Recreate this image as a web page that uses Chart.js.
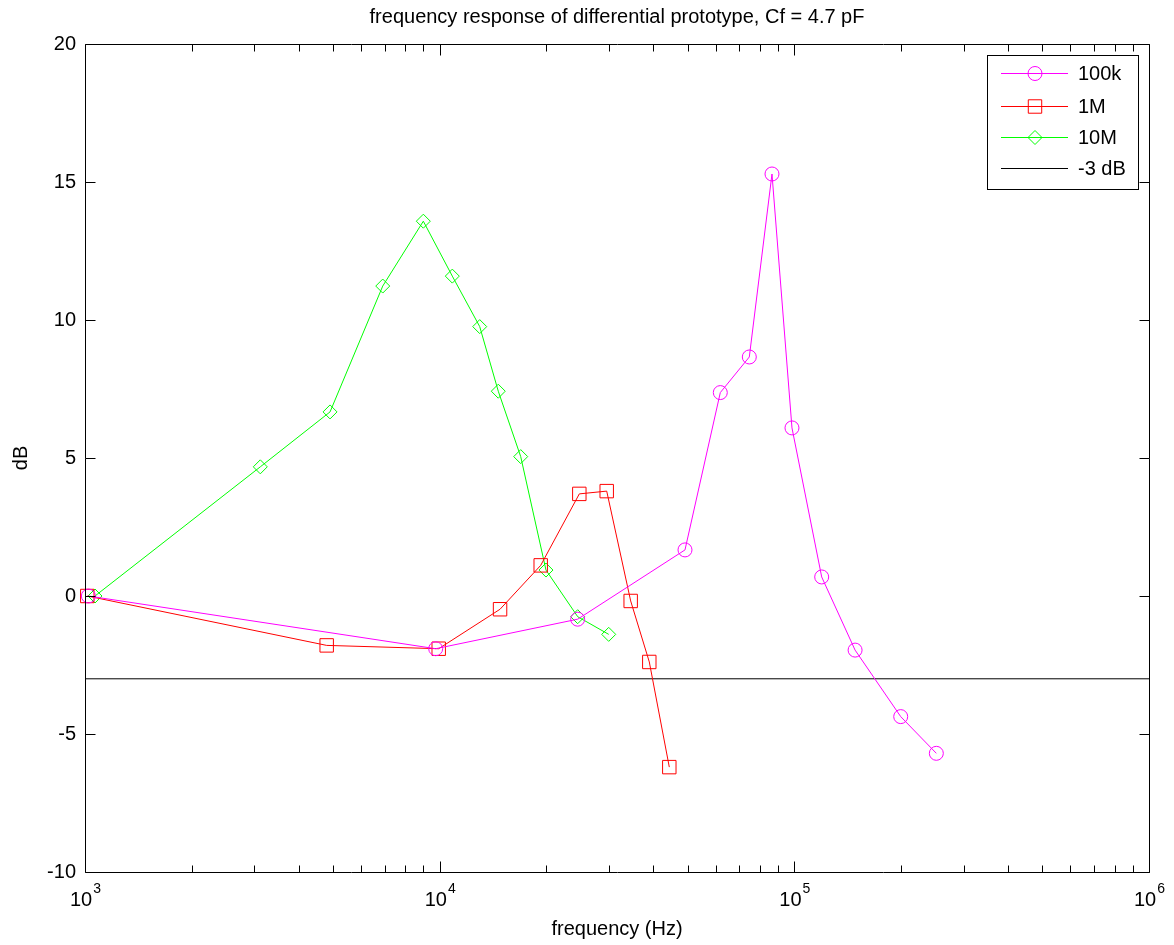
<!DOCTYPE html>
<html>
<head>
<meta charset="utf-8">
<script src="https://cdn.jsdelivr.net/npm/chart.js@4/dist/chart.umd.min.js"></script>
<style>
  html, body { margin: 0; padding: 0; background: #fff; }
  canvas { display: block; }
</style>
</head>
<body>
<canvas id="freqChart" width="1174" height="945"></canvas>
<script>
// measured gain vs frequency, one series per feedback resistor
const freq100k = [1022, 9745, 24500, 49170, 61840, 74650, 86500, 98480, 119440, 148350, 199500, 251400];
const db100k   = [0, -1.91, -0.84, 1.67, 7.37, 8.66, 15.29, 6.09, 0.69, -1.96, -4.37, -5.70];

const freq1M = [1015, 4802, 9938, 14800, 19270, 24760, 29580, 34560, 39000, 44410];
const db1M   = [0, -1.79, -1.91, -0.48, 1.11, 3.70, 3.80, -0.18, -2.39, -6.20];

const freq10M = [1067, 3121, 4908, 6910, 8993, 10855, 12970, 14630, 16925, 19940, 24500, 29970];
const db10M   = [0, 4.68, 6.67, 11.23, 13.58, 11.59, 9.76, 7.42, 5.05, 0.94, -0.75, -1.39];

const freqLimit = [1000, 1000000];
const dbLimit   = [-3, -3];

const seriesLabels = ['100k', '1M', '10M', '-3 dB'];
const xDecades = [3, 4, 5, 6];
const yTicks = [-10, -5, 0, 5, 10, 15, 20];

const FONT = "'Liberation Sans', Arial, Helvetica, sans-serif";
Chart.defaults.font.family = FONT;
Chart.defaults.color = '#000';

function toPoints(xs, ys) {
  return xs.map((x, i) => ({ x: x, y: ys[i] }));
}

function series(label, xs, ys, color, style, radius) {
  return {
    label: label,
    data: toPoints(xs, ys),
    borderColor: color,
    backgroundColor: color,
    borderWidth: 1,
    pointStyle: style,
    pointRadius: radius,
    pointBorderColor: color,
    pointBackgroundColor: 'rgba(0,0,0,0)',
    pointBorderWidth: 1,
    clip: false
  };
}

const datasets = [
  series(seriesLabels[0], freq100k, db100k, '#ff00ff', 'circle', 7),
  series(seriesLabels[1], freq1M, db1M, '#ff0000', 'rect', 9.5),
  series(seriesLabels[2], freq10M, db10M, '#00ff00', 'rectRot', 7),
  series(seriesLabels[3], freqLimit, dbLimit, '#000000', false, 0)
];

function drawMarker(ctx, style, x, y, r) {
  ctx.beginPath();
  if (style === 'circle') {
    ctx.arc(x, y, r, 0, Math.PI * 2);
  } else if (style === 'rect') {
    const s = r * Math.SQRT1_2;
    ctx.rect(x - s, y - s, 2 * s, 2 * s);
  } else if (style === 'rectRot') {
    ctx.moveTo(x - r, y);
    ctx.lineTo(x, y - r);
    ctx.lineTo(x + r, y);
    ctx.lineTo(x, y + r);
    ctx.closePath();
  } else {
    return;
  }
  ctx.stroke();
}

// box, inward ticks, 10^n labels, title and legend in the old plotting style
const axesDecor = {
  id: 'axesDecor',
  afterDraw(chart) {
    const ctx = chart.ctx;
    const area = chart.chartArea;
    const xs = chart.scales.x;
    const ys = chart.scales.y;
    const L = Math.round(area.left) + 0.5, R = Math.round(area.right) + 0.5;
    const T = Math.round(area.top) + 0.5, B = Math.round(area.bottom) + 0.5;
    ctx.save();
    ctx.strokeStyle = '#000';
    ctx.lineWidth = 1;

    // x ticks, major and minor, bottom and top
    ctx.beginPath();
    for (let d = xDecades[0]; d <= xDecades[xDecades.length - 1]; d++) {
      for (let m = 1; m <= 9; m++) {
        if (d === xDecades[xDecades.length - 1] && m > 1) break;
        const v = m * Math.pow(10, d);
        const px = Math.round(xs.getPixelForValue(v)) + 0.5;
        const len = m === 1 ? 11 : 7;
        ctx.moveTo(px, B); ctx.lineTo(px, B - len);
        ctx.moveTo(px, T); ctx.lineTo(px, T + len);
      }
    }
    // y ticks, left and right
    yTicks.forEach(v => {
      const py = Math.round(ys.getPixelForValue(v)) + 0.5;
      ctx.moveTo(L, py); ctx.lineTo(L + 10, py);
      ctx.moveTo(R, py); ctx.lineTo(R - 10, py);
    });
    ctx.stroke();

    ctx.beginPath();
    ctx.rect(L, T, R - L, B - T);
    ctx.stroke();

    // decade labels
    ctx.fillStyle = '#000';
    ctx.textBaseline = 'alphabetic';
    xDecades.forEach(d => {
      const px = xs.getPixelForValue(Math.pow(10, d));
      ctx.font = '20px ' + FONT;
      const wBase = ctx.measureText('10').width;
      ctx.font = '14px ' + FONT;
      const wExp = ctx.measureText(String(d)).width;
      const x0 = px - (wBase + wExp) / 2;
      ctx.font = '20px ' + FONT;
      ctx.textAlign = 'left';
      ctx.fillText('10', x0, 906);
      ctx.font = '14px ' + FONT;
      ctx.fillText(String(d), x0 + wBase + 1, 893);
    });

    // title
    ctx.font = '20px ' + FONT;
    ctx.textAlign = 'center';
    ctx.textBaseline = 'middle';
    ctx.fillText('frequency response of differential prototype, Cf = 4.7 pF', (area.left + area.right) / 2, 17);

    // legend
    const lx = 987.5, ly = 55.5, lw = 151, lh = 134;
    ctx.fillStyle = '#fff';
    ctx.fillRect(lx, ly, lw, lh);
    ctx.strokeStyle = '#000';
    ctx.strokeRect(lx, ly, lw, lh);
    const rowY = [73, 106, 137, 168];
    chart.data.datasets.forEach((ds, i) => {
      const y = rowY[i] + 0.5;
      ctx.strokeStyle = ds.borderColor;
      ctx.lineWidth = 1;
      ctx.beginPath();
      ctx.moveTo(1001, y); ctx.lineTo(1068, y);
      ctx.stroke();
      drawMarker(ctx, ds.pointStyle, 1035, y, ds.pointRadius);
      ctx.fillStyle = '#000';
      ctx.font = '20px ' + FONT;
      ctx.textAlign = 'left';
      ctx.textBaseline = 'middle';
      ctx.fillText(ds.label, 1078, y + 1);
    });
    ctx.restore();
  }
};

new Chart(document.getElementById('freqChart'), {
  type: 'line',
  data: { datasets: datasets },
  plugins: [axesDecor],
  options: {
    responsive: false,
    animation: false,
    events: [],
    layout: { padding: { top: 44, right: 25, bottom: 0, left: 0 } },
    plugins: {
      legend: { display: false },
      title: { display: false },
      tooltip: { enabled: false }
    },
    scales: {
      x: {
        type: 'logarithmic',
        min: 1000,
        max: 1000000,
        grid: { display: false, drawTicks: false, tickLength: 0 },
        border: { display: false },
        ticks: { display: false },
        title: { display: true, text: 'frequency (Hz)', font: { size: 20 }, padding: { top: 6, bottom: 4 } },
        afterFit(scale) { scale.height = 73; }
      },
      y: {
        min: -10,
        max: 20,
        grid: { display: false, drawTicks: false, tickLength: 0 },
        border: { display: false },
        ticks: { stepSize: 5, padding: 9, font: { size: 20 } },
        title: { display: true, text: 'dB', font: { size: 20 }, padding: { top: 9, bottom: 4 } },
        afterFit(scale) { scale.width = 85; }
      }
    }
  }
});
</script>
</body>
</html>
